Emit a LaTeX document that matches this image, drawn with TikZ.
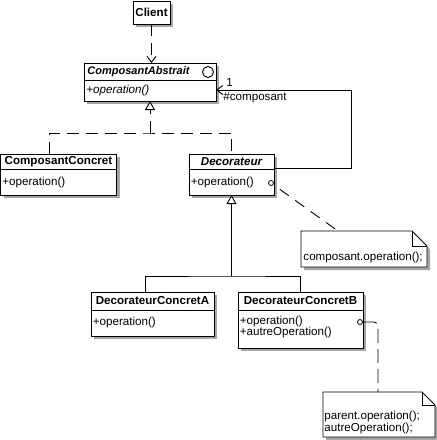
\documentclass[tikz,border=0pt]{standalone}
\usepackage{fontspec}
\setmainfont{Liberation Sans}
\usetikzlibrary{arrows.meta,shadows,calc}
\newcommand\myfs{\fontsize{11.6}{13}\selectfont}
\begin{document}
\begin{tikzpicture}[x=1pt,y=-1pt,
  line width=0.9pt,
  cls/.style={draw, fill=white, anchor=north west, inner sep=0pt, outer sep=0pt,
     drop shadow={shadow xshift=3pt, shadow yshift=-3pt, fill=black!35, opacity=1}},
  ttl/.style={font=\myfs\bfseries, inner sep=0pt},
  ttli/.style={font=\myfs\bfseries\itshape, inner sep=0pt},
  op/.style={font=\myfs, inner sep=0pt, anchor=west},
  opi/.style={font=\myfs\itshape, inner sep=0pt, anchor=west},
  lbl/.style={font=\myfs, inner sep=0pt, anchor=west},
  dsh/.style={dash pattern=on 12pt off 7pt},
  barb/.style={-{Straight Barb[length=6pt,width=9pt]}},
  gen/.style={-{Triangle[open,length=9pt,width=10pt,fill=white]}},
  port/.style={circle, draw, fill=white, inner sep=0pt, minimum size=5pt, line width=0.8pt},
  notearea/.style={anchor=north west, inner sep=0pt, outer sep=0pt},
]
\path[use as bounding box] (0,0) rectangle (437,440);

% Client
\node[cls, minimum width=37pt, minimum height=23pt] (cl) at (133,1) {};
\node[ttl] (clt) at (cl.center) {Client};

% ComposantAbstrait
\node[cls, minimum width=132pt, minimum height=38pt] (ca) at (84,63) {};
\draw ($(ca.north west)+(0,17)$) -- ($(ca.north east)+(0,17)$);
\node[ttli, anchor=west, font=\fontsize{11}{13}\selectfont\bfseries\itshape] (cat) at ($(ca.north west)+(3,9)$) {ComposantAbstrait};
\node[circle, draw, inner sep=0pt, minimum size=11pt] (cai) at ($(ca.north east)+(-8,9)$) {};
\node[opi] (cao) at ($(ca.north west)+(2,27)$) {+operation()};

% ComposantConcret
\node[cls, minimum width=116pt, minimum height=41pt] (cc) at (0.5,154) {};
\draw ($(cc.north west)+(0,15)$) -- ($(cc.north east)+(0,15)$);
\node[ttl] (cct) at ($(cc.north)+(0,8)$) {ComposantConcret};
\node[op] (cco) at ($(cc.north west)+(1.5,28)$) {+operation()};

% Decorateur
\node[cls, minimum width=85pt, minimum height=41pt] (dec) at (189,154) {};
\draw ($(dec.north west)+(0,15)$) -- ($(dec.north east)+(0,15)$);
\node[ttli] (dect) at ($(dec.north)+(0,8)$) {Decorateur};
\node[op] (deco) at ($(dec.north west)+(1.5,28)$) {+operation()};
\node[port] (c1) at (271,183) {};

% DecorateurConcretA
\node[cls, minimum width=123pt, minimum height=44pt] (da) at (91,292) {};
\draw ($(da.north west)+(0,18)$) -- ($(da.north east)+(0,18)$);
\node[ttl] (dat) at ($(da.north)+(0,9)$) {DecorateurConcretA};
\node[op] (dao) at ($(da.north west)+(1.5,30)$) {+operation()};

% DecorateurConcretB
\node[cls, minimum width=125pt, minimum height=56pt] (db) at (238,292) {};
\draw ($(db.north west)+(0,18)$) -- ($(db.north east)+(0,18)$);
\node[ttl] (dbt) at ($(db.north)+(0,9)$) {DecorateurConcretB};
\node[op, align=left, font=\fontsize{11.6}{11.5}\selectfont] (dbo) at ($(db.north west)+(1.5,35)$) {+operation()\\+autreOperation()};
\node[port] (c2) at (360,322) {};

% Note 1
\node[notearea, minimum width=126pt, minimum height=36pt] (n1) at (301,231) {};
\fill[black!35] ([shift={(3,3)}]n1.north west) -- ([shift={(-12,3)}]n1.north east) -- ([shift={(3,18)}]n1.north east) -- ([shift={(3,3)}]n1.south east) -- ([shift={(3,3)}]n1.south west) -- cycle;
\draw[fill=white] (n1.north west) -- ([shift={(-15,0)}]n1.north east) -- ([shift={(0,15)}]n1.north east) -- (n1.south east) -- (n1.south west) -- cycle;
\draw ([shift={(-15,0)}]n1.north east) -- ([shift={(-15,15)}]n1.north east) -- ([shift={(0,15)}]n1.north east);
\node[op] (n1t) at ($(n1.west)+(2,8)$) {composant.operation();};

% Note 2
\node[notearea, minimum width=112pt, minimum height=45pt] (n2) at (323,392) {};
\fill[black!35] ([shift={(3,3)}]n2.north west) -- ([shift={(-10,3)}]n2.north east) -- ([shift={(3,16)}]n2.north east) -- ([shift={(3,3)}]n2.south east) -- ([shift={(3,3)}]n2.south west) -- cycle;
\draw[fill=white] (n2.north west) -- ([shift={(-13,0)}]n2.north east) -- ([shift={(0,13)}]n2.north east) -- (n2.south east) -- (n2.south west) -- cycle;
\draw ([shift={(-13,0)}]n2.north east) -- ([shift={(-13,13)}]n2.north east) -- ([shift={(0,13)}]n2.north east);
\node[op, align=left, font=\fontsize{11.6}{11.5}\selectfont] (n2t) at ($(n2.west)+(1,8)$) {parent.operation();\\autreOperation();};

% Connectors
\draw[dsh, barb] (cl.south) -- (cl.south |- ca.north);

\coordinate (j1) at (ca.south |- 0,133);
\draw[dsh] ($(cc.north west)+(49,0)$) |- (j1) -| (dec.north);
\draw[dsh, gen] (j1) -- (ca.south);

\coordinate (k) at (351,90);
\draw[barb] ($(dec.north east)+(0,14)$) -| (k) -- (ca.east |- k);
\node[lbl] (m1) at (226,83) {1};
\node[lbl] (m2) at (223,98) {\#composant};

\coordinate (j2) at (dec.south |- 0,276);
\draw[gen] (j2) -- (dec.south);
\draw ($(da.north west)+(54,0)$) |- (j2) -| (db.north);

\draw[dash pattern=on 11pt off 8pt, dash phase=11pt] (c1) -- ($(n1.north west)+(37,0)$);
\draw[rounded corners=4pt, dash pattern=on 14pt off 6pt] (c2) -| ($(n2.north west)+(55,0)$);
\end{tikzpicture}
\end{document}
